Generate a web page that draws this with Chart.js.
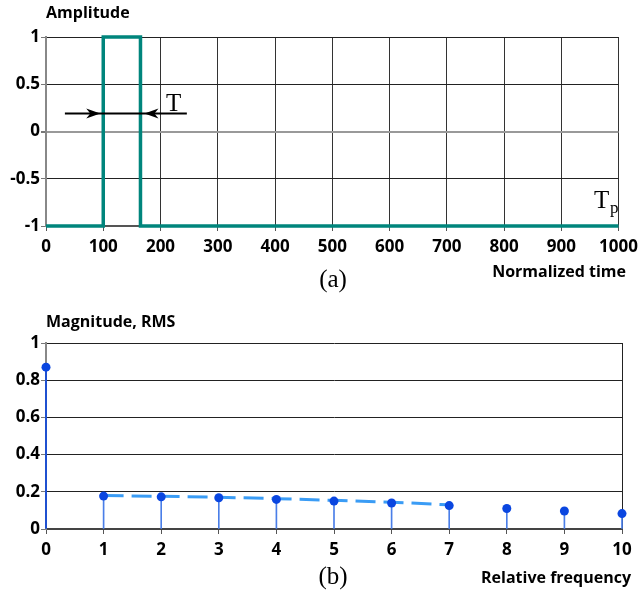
<!DOCTYPE html>
<html><head><meta charset="utf-8">
<script src="https://cdn.jsdelivr.net/npm/chart.js@4.4.1/dist/chart.umd.min.js"></script>
<style>
html,body{margin:0;padding:0;background:#fff;width:644px;height:595px;overflow:hidden}
canvas{position:absolute;left:0}
#c1{top:0}
#c2{top:300px}
</style></head>
<body>
<canvas id="c1" width="644" height="300"></canvas>
<canvas id="c2" width="644" height="295"></canvas>
<script>
// ---- data ----
const timeValues = [0, 100, 100, 165, 165, 1000];
const amplitudeValues = [-1, -1, 1, 1, -1, -1];
const timeTicks = [0, 100, 200, 300, 400, 500, 600, 700, 800, 900, 1000];
const amplitudeTicks = [-1, -0.5, 0, 0.5, 1];
const pulseStart = 100, pulseEnd = 165, arrowLevel = 0.19;

const harmonics = [0, 1, 2, 3, 4, 5, 6, 7, 8, 9, 10];
const magnitudes = [0.87, 0.177, 0.173, 0.168, 0.159, 0.150, 0.140, 0.126, 0.110, 0.097, 0.083];
const trendHarmonics = [1, 2, 3, 4, 5, 6, 7];
const trendValues = [0.180, 0.176, 0.171, 0.163, 0.154, 0.144, 0.130];
const frequencyTicks = [0, 1, 2, 3, 4, 5, 6, 7, 8, 9, 10];
const magnitudeTicks = [0, 0.2, 0.4, 0.6, 0.8, 1];

const tickFont = {family: '"Open Sans", "DejaVu Sans", sans-serif', size: 17, weight: 'bold'};
const labelFont = 'bold 16px "Open Sans", "DejaVu Sans", sans-serif';
const serifFont = '"Liberation Serif", "DejaVu Serif", serif';

function setTicks(arr){ return function(scale){ scale.ticks = arr.map(v => ({value: v})); }; }
const plainLabel = v => String(v);

// ---- chart (a) ----
const annotA = {
  id: 'annotA',
  afterDraw(chart){
    const ctx = chart.ctx, xs = chart.scales.x, ys = chart.scales.y;
    ctx.save();
    ctx.fillStyle = '#000';
    ctx.font = labelFont;
    ctx.textBaseline = 'middle';
    ctx.textAlign = 'left';
    ctx.fillText('Amplitude', 46, 13);
    ctx.textAlign = 'right';
    ctx.fillText('Normalized time', 626, 272);
    ctx.textAlign = 'center';
    ctx.font = '25px ' + serifFont;
    ctx.fillText('(a)', 333, 280);
    // T label
    ctx.font = '25px ' + serifFont;
    ctx.textAlign = 'left';
    ctx.fillText('T', 166, 104);
    // Tp label
    ctx.fillText('T', 594, 201);
    ctx.font = '17px ' + serifFont;
    ctx.fillText('p', 610, 209);
    // arrows
    const y = ys.getPixelForValue(arrowLevel);
    const xl = xs.getPixelForValue(33), xr = xs.getPixelForValue(246);
    const tipL = xs.getPixelForValue(pulseStart) - 3;
    const tipR = xs.getPixelForValue(pulseEnd) + 4;
    ctx.strokeStyle = '#000';
    ctx.lineWidth = 2;
    ctx.beginPath(); ctx.moveTo(xl, y); ctx.lineTo(xr, y); ctx.stroke();
    function head(tx, dir){
      ctx.beginPath();
      ctx.moveTo(tx, y);
      ctx.lineTo(tx - dir*14, y - 5);
      ctx.lineTo(tx - dir*10, y);
      ctx.lineTo(tx - dir*14, y + 5);
      ctx.closePath();
      ctx.fill();
    }
    head(tipL, 1);
    head(tipR, -1);
    ctx.restore();
  }
};

new Chart(document.getElementById('c1'), {
  type: 'line',
  data: {
    datasets: [{
      data: timeValues.map((t, i) => ({x: t, y: amplitudeValues[i]})),
      borderColor: '#00857c',
      borderWidth: 3.5,
      pointRadius: 0,
      tension: 0,
      clip: false
    }]
  },
  options: {
    responsive: false, animation: false, devicePixelRatio: 1,
    layout: {padding: {top: 37, right: 22, left: 0, bottom: 0}},
    plugins: {legend: {display: false}, tooltip: {enabled: false}},
    scales: {
      x: {
        type: 'linear', min: 0, max: 1000,
        afterBuildTicks: setTicks(timeTicks),
        afterFit(s){ s.height = 74; },
        grid: {color: '#333', lineWidth: 1, tickLength: 5, tickColor: '#555'},
        border: {color: '#555', width: 2},
        ticks: {font: tickFont, color: '#000', padding: 6, maxRotation: 0, autoSkip: false, callback: plainLabel}
      },
      y: {
        type: 'linear', min: -1, max: 1,
        afterBuildTicks: setTicks(amplitudeTicks),
        afterFit(s){ s.width = 46; },
        grid: {
          color: c => (c.tick && c.tick.value === 0) ? '#999' : '#222',
          lineWidth: c => (c.tick && c.tick.value === 0) ? 2 : 1,
          tickLength: 5, tickColor: '#777'
        },
        border: {color: '#888', width: 2},
        ticks: {font: tickFont, color: '#000', padding: 1, callback: plainLabel}
      }
    }
  },
  plugins: [annotA]
});

// ---- chart (b) ----
const annotB = {
  id: 'annotB',
  afterDraw(chart){
    const ctx = chart.ctx;
    ctx.save();
    ctx.fillStyle = '#000';
    ctx.font = labelFont;
    ctx.textBaseline = 'middle';
    ctx.textAlign = 'left';
    ctx.fillText('Magnitude, RMS', 46, 22);
    ctx.textAlign = 'right';
    ctx.fillText('Relative frequency', 631, 278);
    ctx.textAlign = 'center';
    ctx.font = '25px ' + serifFont;
    ctx.fillText('(b)', 333, 277);
    ctx.restore();
  }
};

new Chart(document.getElementById('c2'), {
  type: 'bar',
  data: {
    datasets: [
      {
        type: 'line',
        data: trendHarmonics.map((h, i) => ({x: h, y: trendValues[i]})),
        borderColor: '#3a9cf5',
        borderWidth: 3,
        borderDash: [20, 8],
        pointRadius: 0,
        tension: 0,
        order: 2,
        clip: false
      },
      {
        type: 'line',
        data: harmonics.map((h, i) => ({x: h, y: magnitudes[i]})),
        showLine: false,
        pointRadius: 4.5,
        pointBackgroundColor: '#0a46e0',
        pointBorderColor: '#0a46e0',
        pointBorderWidth: 0,
        order: 0,
        clip: false
      },
      {
        type: 'bar',
        data: harmonics.map((h, i) => ({x: h, y: magnitudes[i]})),
        backgroundColor: harmonics.map(h => h === 0 ? '#0a46e0' : '#4a7ee8'),
        barThickness: harmonics.map(h => h === 0 ? 2.5 : 1),
        categoryPercentage: 1, barPercentage: 1,
        order: 1,
        clip: false
      }
    ]
  },
  options: {
    responsive: false, animation: false, devicePixelRatio: 1,
    layout: {padding: {top: 43, right: 22, left: 0, bottom: 0}},
    plugins: {legend: {display: false}, tooltip: {enabled: false}},
    scales: {
      x: {
        type: 'linear', min: 0, max: 10, offset: false,
        afterBuildTicks: setTicks(frequencyTicks),
        afterFit(s){ s.height = 66; },
        grid: {
          offset: false,
          color: c => (c.tick && c.tick.value === 10) ? '#222' : 'rgba(0,0,0,0)',
          tickLength: 5, tickColor: '#555'
        },
        border: {color: '#444', width: 2},
        ticks: {font: tickFont, color: '#000', padding: 6, maxRotation: 0, autoSkip: false, callback: plainLabel}
      },
      y: {
        type: 'linear', min: 0, max: 1,
        afterBuildTicks: setTicks(magnitudeTicks),
        afterFit(s){ s.width = 46; },
        grid: {color: '#222', lineWidth: 1, tickLength: 5, tickColor: '#777'},
        border: {color: '#888', width: 2},
        ticks: {font: tickFont, color: '#000', padding: 1, callback: plainLabel}
      }
    }
  },
  plugins: [annotB]
});
</script>
</body></html>
